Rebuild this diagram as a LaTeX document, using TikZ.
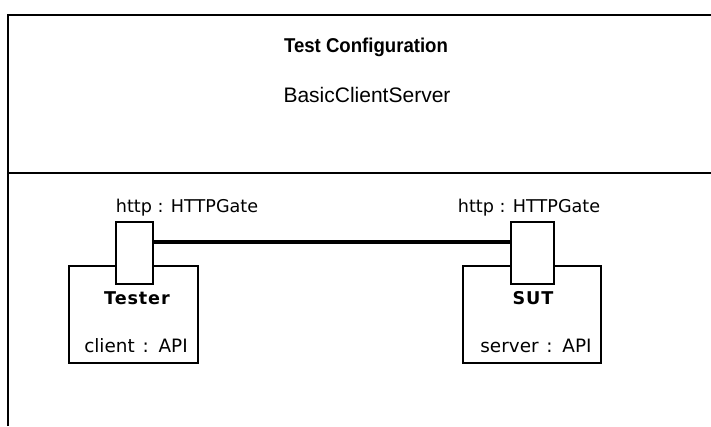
\documentclass[tikz,border=0pt]{standalone}
\usepackage{fontspec}
\setmainfont{DejaVu Sans}
\newfontfamily\headsans{Liberation Sans}
\newfontfamily\narrowsans[FakeStretch=0.93]{Liberation Sans}
\usetikzlibrary{positioning}

\tikzset{
  frameline/.style={line width=2pt, black},
  partbox/.style={draw, line width=2pt, fill=white, rectangle, inner sep=0pt},
  portbox/.style={draw, line width=2pt, fill=white, rectangle, inner sep=0pt,
                  minimum width=37pt, minimum height=62pt},
  connector/.style={line width=4.5pt, black},
  txt/.style={inner sep=0pt, font=\fontsize{17.6}{20}\selectfont},
  typetxt/.style={inner sep=0pt, font=\fontsize{18.4}{20}\selectfont},
  boldtxt/.style={inner sep=0pt, font=\fontsize{17.6}{20}\selectfont\bfseries\addfontfeature{LetterSpace=5}},
  titletxt/.style={inner sep=0pt, font=\narrowsans\fontsize{20}{22}\selectfont\bfseries},
  subtitletxt/.style={inner sep=0pt, font=\headsans\fontsize{21}{23}\selectfont}
}

\begin{document}
\begin{tikzpicture}[x=1pt, y=-1pt]
  \useasboundingbox[fill=white] (0,0) rectangle (711,426);

  % outer frame of the test configuration and its header separator
  \draw[frameline] (8,426) -- (8,15) -- (712,15);
  \draw[frameline] (8,173) -- (712,173);

  % header text
  \node[titletxt] (title) at (366,47) {Test Configuration};
  \node[subtitletxt] (subtitle) at (367,95) {BasicClientServer};

  % parts
  \node[partbox, minimum width=129pt, minimum height=97pt] (tester) at (133.5,314.5) {};
  \node[partbox, minimum width=138pt, minimum height=97pt] (sut) at (532,314.5) {};

  \node[boldtxt] (testername) at (137,298) {Tester};
  \node[typetxt] (testertype) at (136,346) {client\kern2pt{} :\kern2pt{} API};
  \node[boldtxt] (sutname) at (533,298) {SUT};
  \node[typetxt] (suttype) at (536,346) {server\kern2pt{} :\kern2pt{} API};

  % ports
  \node[portbox] (portL) at (134.5,253) {};
  \node[portbox, minimum width=43pt] (portR) at (532.5,253) {};

  \node[txt] (portLlabel) at (187,208) {http : HTTPGate};
  \node[txt] (portRlabel) at (529,208) {http : HTTPGate};

  % connector between the two gates
  \draw[connector] ([yshift=11pt]portL.east) -- ([yshift=11pt]portR.west);
\end{tikzpicture}
\end{document}
